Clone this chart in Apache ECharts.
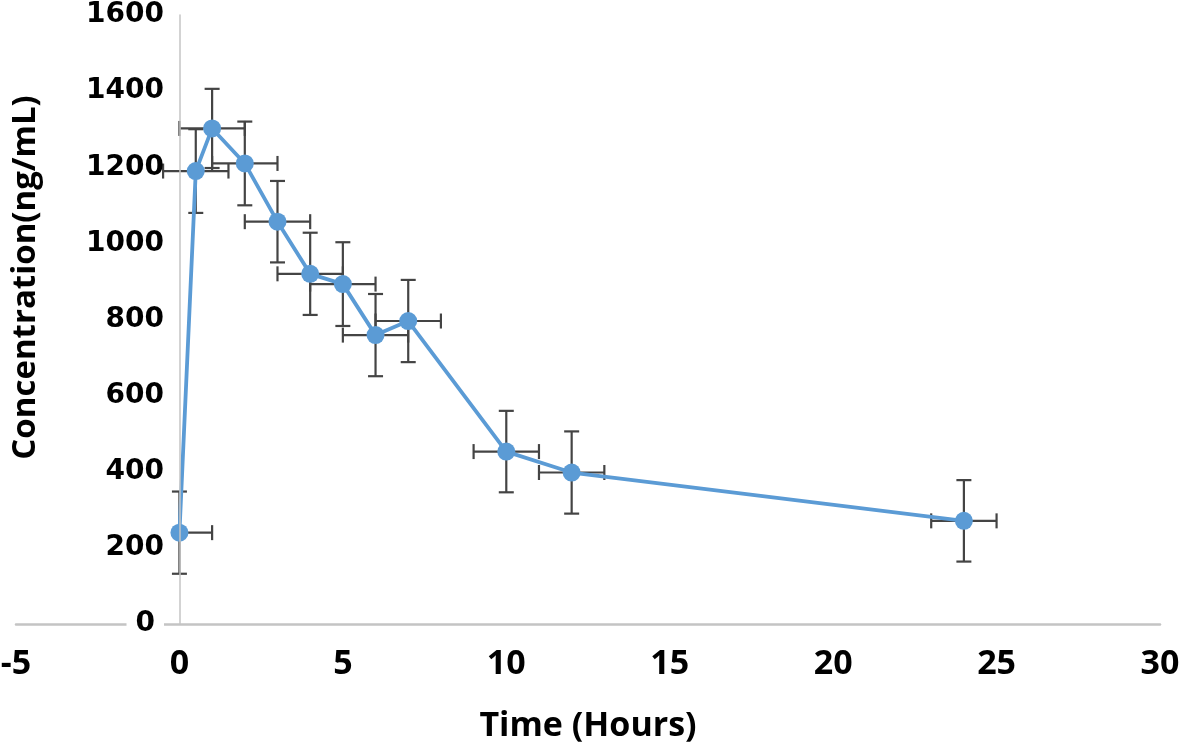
<!DOCTYPE html>
<html>
<head>
<meta charset="utf-8">
<script src="https://cdn.jsdelivr.net/npm/echarts@6/dist/echarts.min.js"></script>
<style>
  html, body { margin: 0; padding: 0; background: #fff; }
  #chart { width: 1181px; height: 756px; }
</style>
</head>
<body>
<div id="chart"></div>
<script>
// Data
var timeHours = [0, 0.5, 1, 2, 3, 4, 5, 6, 7, 10, 12, 24];
var concentration = [240, 1190, 1302, 1210, 1057, 920, 893, 759, 796, 453, 398, 271];
var concErr = [108, 110, 104, 110, 107, 108, 110, 108, 108, 107, 108, 107];
var timeErrMinus = [0, 1, 1, 1, 1, 1, 1, 1, 1, 1, 1, 1];
var timeErrPlus = [1, 1, 1, 1, 1, 1, 1, 1, 1, 1, 1, 1];
var xTicks = [-5, 0, 5, 10, 15, 20, 25, 30];
var yTicks = [0, 200, 400, 600, 800, 1000, 1200, 1400, 1600];

var lineData = timeHours.map(function (t, i) { return [t, concentration[i]]; });
var errData = timeHours.map(function (t, i) {
  return [t, concentration[i], concErr[i], timeErrMinus[i], timeErrPlus[i]];
});

var chart = echarts.init(document.getElementById('chart'), null, { renderer: 'canvas' });

function renderErr(params, api) {
  var x = api.value(0), y = api.value(1), ye = api.value(2), xm = api.value(3), xp = api.value(4);
  var c = api.coord([x, y]);
  var top = api.coord([x, y + ye]);
  var bot = api.coord([x, y - ye]);
  var left = api.coord([x - xm, y]);
  var right = api.coord([x + xp, y]);
  var cap = 7.5;
  var style = { stroke: '#444444', lineWidth: 2.2 };
  var children = [
    { type: 'line', shape: { x1: top[0], y1: top[1], x2: bot[0], y2: bot[1] }, style: style },
    { type: 'line', shape: { x1: top[0] - cap, y1: top[1], x2: top[0] + cap, y2: top[1] }, style: style },
    { type: 'line', shape: { x1: bot[0] - cap, y1: bot[1], x2: bot[0] + cap, y2: bot[1] }, style: style },
    { type: 'line', shape: { x1: c[0], y1: c[1], x2: right[0], y2: right[1] }, style: style },
    { type: 'line', shape: { x1: right[0], y1: right[1] - cap, x2: right[0], y2: right[1] + cap }, style: style }
  ];
  if (xm > 0) {
    children.push({ type: 'line', shape: { x1: left[0], y1: left[1], x2: c[0], y2: c[1] }, style: style });
    children.push({ type: 'line', shape: { x1: left[0], y1: left[1] - cap, x2: left[0], y2: left[1] + cap }, style: style });
  }
  return { type: 'group', children: children };
}

var option = {
  backgroundColor: '#ffffff',
  animation: false,
  grid: {
    left: 16, right: 21, top: 15, bottom: 132,
    containLabel: false,
    outerBoundsMode: 'none'
  },
  xAxis: {
    type: 'value',
    min: xTicks[0], max: xTicks[xTicks.length - 1], interval: 5,
    splitLine: { show: false },
    axisTick: { show: false },
    axisLine: { show: true, onZero: false, lineStyle: { color: '#c4c4c4', width: 2.5 } },
    axisLabel: {
      margin: 23,
      color: '#000',
      fontFamily: 'Open Sans',
      fontWeight: 'bold',
      fontSize: 34
    },
    name: 'Time (Hours)',
    nameLocation: 'middle',
    nameGap: 85,
    nameTextStyle: { color: '#000', fontFamily: 'Open Sans', fontWeight: 'bold', fontSize: 34 }
  },
  yAxis: {
    type: 'value',
    min: yTicks[0], max: yTicks[yTicks.length - 1], interval: 200,
    z: 5,
    splitLine: { show: false },
    axisTick: { show: false },
    axisLine: { show: true, onZero: true, lineStyle: { color: '#c4c4c4', width: 1.5 } },
    axisLabel: {
      margin: -148,
      color: '#000',
      fontFamily: 'DejaVu Sans',
      fontWeight: 'bold',
      fontSize: 28,
      formatter: function (v) { return v === 0 ? '{z|0}' : '{n|' + v + '}'; },
      rich: {
        z: { backgroundColor: '#fff', padding: [0, 9, 0, 9], color: '#000', fontFamily: 'DejaVu Sans', fontWeight: 'bold', fontSize: 28 },
        n: { color: '#000', fontFamily: 'DejaVu Sans', fontWeight: 'bold', fontSize: 28 }
      }
    },
    name: 'Concentration(ng/mL)',
    nameLocation: 'middle',
    nameGap: -26,
    nameTextStyle: { color: '#000', fontFamily: 'Open Sans', fontWeight: 'bold', fontSize: 33, padding: [0, 0, 0, 84] }
  },
  series: [
    {
      type: 'custom',
      name: 'err',
      data: errData,
      renderItem: renderErr,
      z: 1,
      silent: true
    },
    {
      type: 'line',
      name: 'Concentration',
      data: lineData,
      z: 3,
      symbol: 'circle',
      symbolSize: 18,
      showAllSymbol: true,
      lineStyle: { color: '#5b9bd5', width: 3.8 },
      itemStyle: { color: '#5b9bd5' }
    }
  ]
};
chart.setOption(option);
</script>
</body>
</html>
